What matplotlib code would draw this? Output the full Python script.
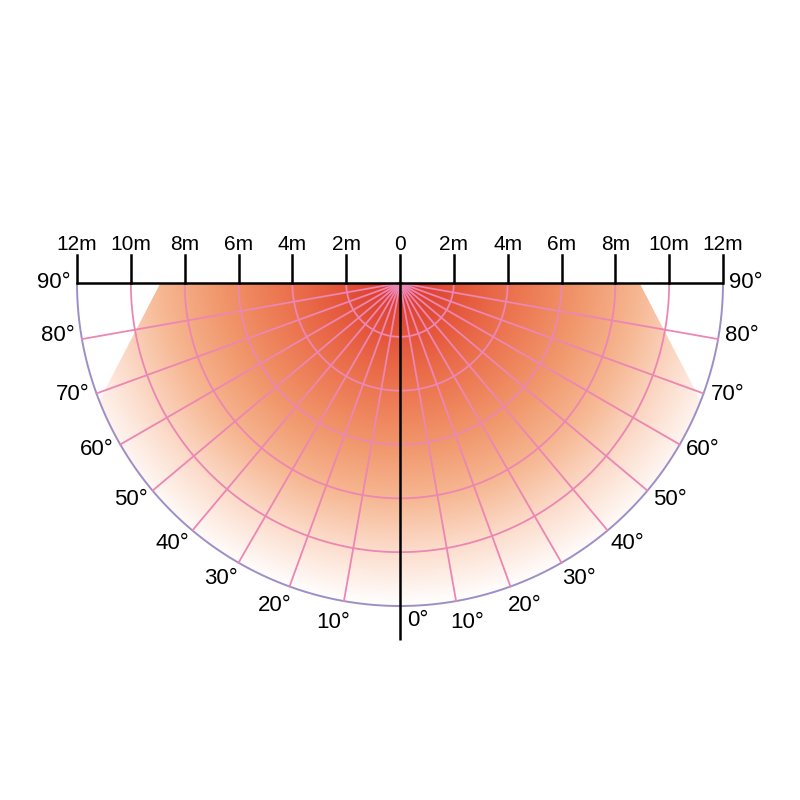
import numpy as np
import matplotlib
matplotlib.use('Agg')
from matplotlib import pyplot as plt
from matplotlib.colors import LinearSegmentedColormap
from matplotlib.patches import Polygon

plt.rcParams['font.family'] = ['Liberation Sans', 'DejaVu Sans']

# chart structure (metres / degrees)
range_max = 12
dist_ticks = [-12, -10, -8, -6, -4, -2, 0, 2, 4, 6, 8, 10, 12]
dist_labels = ['12m', '10m', '8m', '6m', '4m', '2m', '0', '2m', '4m', '6m', '8m', '10m', '12m']
circle_radii = [2, 4, 6, 8, 10]
radial_angles = [10, 20, 30, 40, 50, 60, 70, 80]
angle_labels = [90, 80, 70, 60, 50, 40, 30, 20, 10]
# edge of the coloured zone: top point on axis and where it meets the outer arc (left side)
edge_top = (-8.9, 0.0)
edge_arc_deg = 68.6  # angle from vertical where the edge reaches the outer arc

# gradient colours from outside (0) to the sensor (1)
grad_stops = [0.0, 0.17, 0.33, 0.5, 0.67, 0.83, 1.0]
grad_colors = ['#ffffff', '#fcdccb', '#f6b792', '#f1956a', '#ec7550', '#e4553a', '#d9342a']

cmap = LinearSegmentedColormap.from_list('heat', list(zip(grad_stops, grad_colors)))

fig = plt.figure(figsize=(8, 8), dpi=100)
ax = fig.add_axes([0, 0, 1, 1])
scale = 323 / 12.0  # pixels per metre
ax.set_xlim(-400 / scale, 400 / scale)
ax.set_ylim(-(800 - 283) / scale, 283 / scale)
ax.set_aspect('equal')
ax.axis('off')

# gradient fill
xs = np.linspace(-range_max, range_max, 1200)
ys = np.linspace(-range_max, 0, 600)
X, Y = np.meshgrid(xs, ys)
R = np.hypot(X, Y)
depth = -Y
r_eff = 0.9 * R + 0.1 * depth
V = np.clip(1 - r_eff / range_max, 0, 1)
im = ax.imshow(V, cmap=cmap, vmin=0, vmax=1, origin='lower',
               extent=(-range_max, range_max, -range_max, 0), interpolation='bilinear', zorder=1)

# clip to the zone: semicircle with the two upper corners cut away
arc = np.radians(np.linspace(-edge_arc_deg, edge_arc_deg, 300))
zone = [(edge_top[0], 0)] + list(zip(range_max * np.sin(arc), -range_max * np.cos(arc))) + [(-edge_top[0], 0)]
clip = Polygon(zone, closed=True, transform=ax.transData, facecolor='none', edgecolor='none')
ax.add_patch(clip)
im.set_clip_path(clip)

# grid circles
t = np.linspace(np.pi, 2 * np.pi, 400)
for r in circle_radii:
    ax.plot(r * np.cos(t), r * np.sin(t), color='#ec86b3', lw=1.3, zorder=2)
ax.plot(range_max * np.cos(t), range_max * np.sin(t), color='#9d8fc6', lw=1.4, zorder=2)

# radial lines
for a in radial_angles:
    for side in (-1, 1):
        th = np.radians(a)
        ax.plot([0, side * range_max * np.sin(th)], [0, -range_max * np.cos(th)],
                color='#ec86b3', lw=1.3, zorder=2)

# axes
ax.plot([-range_max, range_max], [0, 0], color='black', lw=1.8, zorder=3, solid_capstyle='butt')
ax.plot([0, 0], [0, -357 / scale], color='black', lw=1.8, zorder=3, solid_capstyle='butt')
for x, lab in zip(dist_ticks, dist_labels):
    ax.plot([x, x], [0, 28 / scale], color='black', lw=1.8, zorder=3)
    ax.text(x, 29 / scale, lab, ha='center', va='bottom', fontsize=15)

# angle labels
r_lab = 12.85
for a in angle_labels:
    ap = np.radians(min(a + 1.2, 90))
    for side in (-1, 1):
        ax.text(side * r_lab * np.sin(ap), -r_lab * np.cos(ap), '%d°' % a,
                ha='center', va='center', fontsize=16)
ax.text(0.25, -338 / scale, '0°', ha='left', va='center', fontsize=16)

fig.savefig('out.png', dpi=100)
